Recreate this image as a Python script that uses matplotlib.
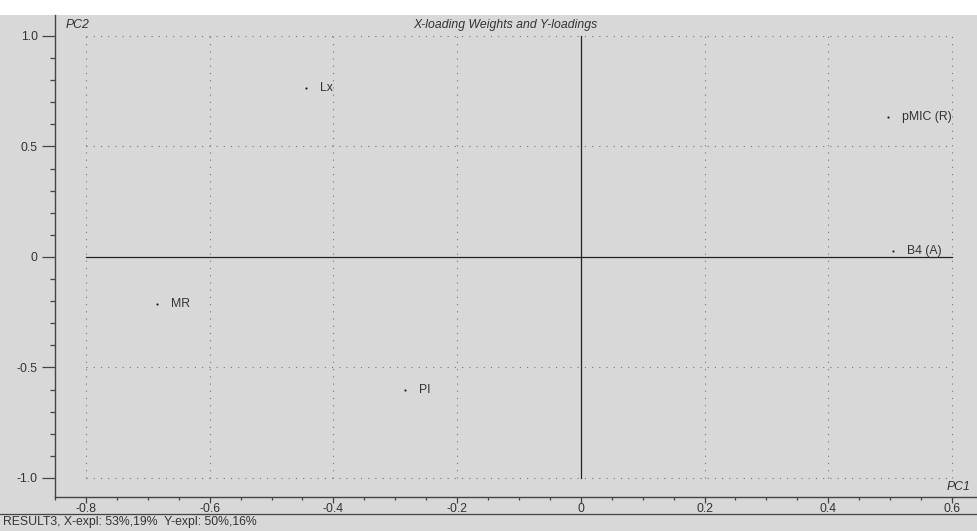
import matplotlib
matplotlib.use("Agg")
import matplotlib.pyplot as plt
from matplotlib.lines import Line2D
from matplotlib.patches import Rectangle
from matplotlib.ticker import MultipleLocator, FixedLocator

plt.rcParams['font.family'] = ['Liberation Sans', 'DejaVu Sans']

# Loadings (PC1, PC2)
names = ["Lx", "pMIC (R)", "B4 (A)", "MR", "PI"]
pc1 = [-0.444, 0.497, 0.505, -0.685, -0.284]
pc2 = [0.763, 0.632, 0.027, -0.212, -0.600]

x_ticks = [-0.8, -0.6, -0.4, -0.2, 0.0, 0.2, 0.4, 0.6]
x_labels = ["-0.8", "-0.6", "-0.4", "-0.2", "0", "0.2", "0.4", "0.6"]
y_ticks = [-1.0, -0.5, 0.0, 0.5, 1.0]
y_labels = ["-1.0", "-0.5", "0", "0.5", "1.0"]

title = "X-loading Weights and Y-loadings"
footer = "RESULT3, X-expl: 53%,19%  Y-expl: 50%,16%"

W, H = 978, 531
bg = "#d8d8d8"
ink = "#333333"
fs = 8.8

fig = plt.figure(figsize=(W / 100, H / 100), dpi=100, facecolor=bg)
# white band along the top edge
fig.add_artist(Rectangle((0, 1 - 15 / H), 1, 15 / H, transform=fig.transFigure,
                         facecolor="white", edgecolor="none", zorder=0))

ax = fig.add_axes([55 / W, (H - 497) / H, (W - 55) / W, (497 - 15) / H])
ax.set_facecolor(bg)
ax.set_xlim(-0.850, 0.642)
ax.set_ylim(-1.086, 1.095)

for s in ("top", "right"):
    ax.spines[s].set_visible(False)
for s in ("left", "bottom"):
    ax.spines[s].set_color("#444444")
    ax.spines[s].set_linewidth(1.0)

ax.xaxis.set_major_locator(FixedLocator(x_ticks))
ax.set_xticklabels(x_labels)
ax.xaxis.set_minor_locator(MultipleLocator(0.05))
ax.yaxis.set_major_locator(FixedLocator(y_ticks))
ax.set_yticklabels(y_labels)
ax.yaxis.set_minor_locator(MultipleLocator(0.1))

ax.tick_params(axis="y", which="major", direction="out", length=9.5, width=0.9,
               color="#444444", labelsize=fs, labelcolor=ink, pad=3)
ax.tick_params(axis="y", which="minor", direction="out", length=3.5, width=0.9,
               color="#444444")
ax.tick_params(axis="x", which="major", direction="out", length=4, width=0.9,
               color="#444444", labelsize=fs, labelcolor=ink, pad=0.5)
ax.tick_params(axis="x", which="minor", direction="out", length=2, width=0.9,
               color="#444444")

xmin, xmax = x_ticks[0], x_ticks[-1]
ymin, ymax = y_ticks[0], y_ticks[-1]
dot = dict(color="#777777", lw=0.8, linestyle=(0, (1, 5.5)), zorder=1)
for xv in x_ticks:
    if xv != 0:
        ax.plot([xv, xv], [ymin, ymax], **dot)
for yv in y_ticks:
    if yv != 0:
        ax.plot([xmin, xmax], [yv, yv], **dot)

# origin axes
ax.plot([0, 0], [ymin, ymax], color="#222222", lw=0.9, zorder=2)
ax.plot([xmin, xmax], [0, 0], color="#222222", lw=0.9, zorder=2)

ax.scatter(pc1, pc2, s=2.5, color="#222222", zorder=3, linewidths=0)
for n, x, y in zip(names, pc1, pc2):
    ax.annotate(n, (x, y), xytext=(10, 0), textcoords="offset points",
                ha="left", va="center", fontsize=fs, color=ink, zorder=4)

ax.text(66 / W, 1 - 25 / H, "PC2", transform=fig.transFigure, fontsize=fs,
        style="italic", color=ink, ha="left", va="center")
ax.text(505 / W, 1 - 25 / H, title, transform=fig.transFigure, fontsize=fs,
        style="italic", color=ink, ha="center", va="center")
ax.text(971 / W, 1 - 487 / H, "PC1", transform=fig.transFigure, fontsize=fs,
        style="italic", color=ink, ha="right", va="center")

# separator under the tick labels
fig.add_artist(Line2D([0, 1], [1 - 514 / H, 1 - 514 / H], transform=fig.transFigure,
                      color="#444444", lw=0.9))
fig.text(3 / W, 1 - 522.5 / H, footer, fontsize=fs, color=ink, ha="left", va="center")

fig.savefig("out.png", dpi=100, facecolor=bg)
